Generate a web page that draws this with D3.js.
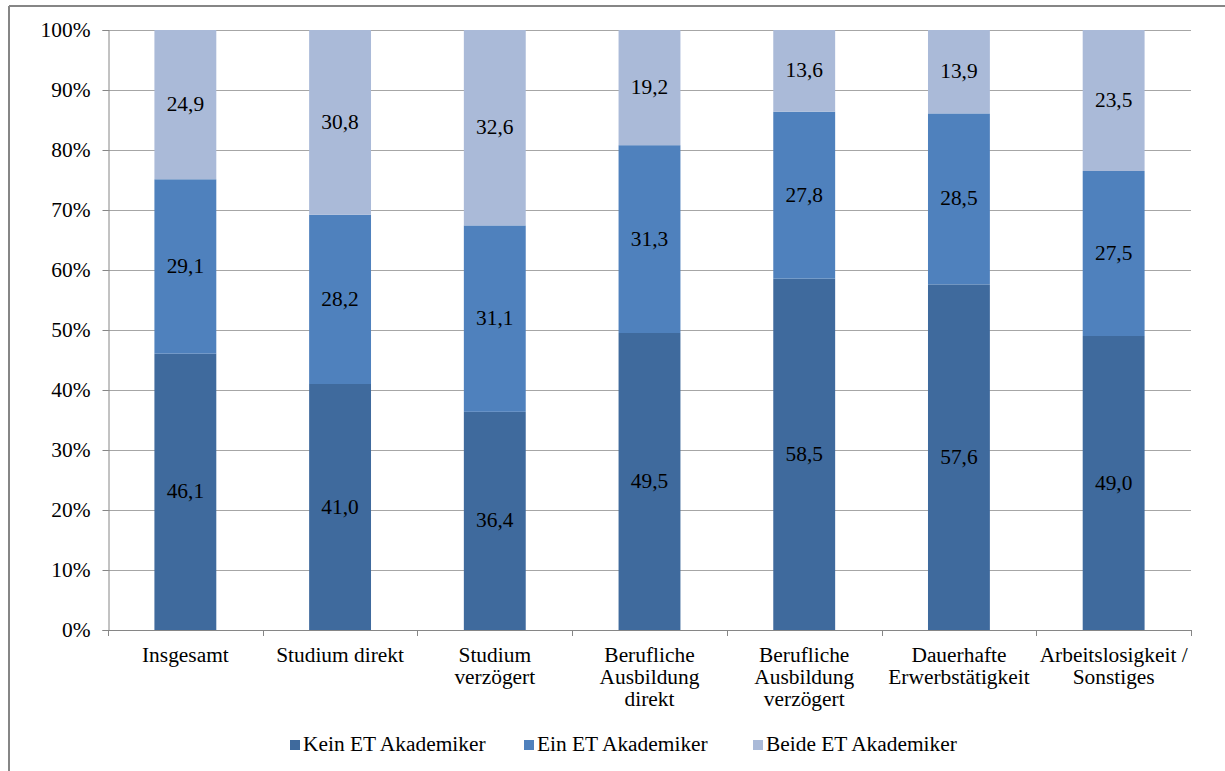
<!DOCTYPE html>
<html><head><meta charset="utf-8">
<script src="https://cdn.jsdelivr.net/npm/d3@7"></script>
<style>body{margin:0;background:#fff}svg{display:block}
svg text{font-family:'Liberation Serif','Times New Roman',Tinos,Times,'DejaVu Serif',serif;fill:#000}</style>
</head><body>
<svg id="c" width="1225" height="771"></svg>
<script>
const categories = [["Insgesamt"],["Studium direkt"],["Studium","verzögert"],["Berufliche","Ausbildung","direkt"],["Berufliche","Ausbildung","verzögert"],["Dauerhafte","Erwerbstätigkeit"],["Arbeitslosigkeit /","Sonstiges"]];
const seriesNames = ["Kein ET Akademiker","Ein ET Akademiker","Beide ET Akademiker"];
const kein = [46.1,41.0,36.4,49.5,58.5,57.6,49.0];
const ein = [29.1,28.2,31.1,31.3,27.8,28.5,27.5];
const beide = [24.9,30.8,32.6,19.2,13.6,13.9,23.5];
const yTicks = [0,0.1,0.2,0.3,0.4,0.5,0.6,0.7,0.8,0.9,1];
const colors = ["#3F6A9D","#4F81BD","#AABAD8"];
const FS = 20, SX = 1.07;

const svg = d3.select("#c");
const L=108,R=1191,T=30,B=630;
const x = d3.scaleBand().domain(d3.range(categories.length)).range([L,R]).paddingInner(0.6).paddingOuter(0.3);
const xb = d3.scaleBand().domain(d3.range(categories.length)).range([L,R]);
const y = d3.scaleLinear().domain([0,1]).range([B,T]);

function txt(g, px, py, anchor, lines, lh){
  const t = g.append("text").attr("transform",`translate(${px},${py}) scale(${SX},1)`)
    .attr("text-anchor",anchor).attr("font-size",FS);
  lines.forEach((ln,j)=>t.append("tspan").attr("x",0).attr("y",j*(lh||0)).text(ln));
  return t;
}

// outer frame
svg.append("line").attr("x1",9).attr("x2",1225).attr("y1",6).attr("y2",6).attr("stroke","#868686").attr("stroke-width",2);
svg.append("line").attr("x1",9).attr("x2",9).attr("y1",6).attr("y2",771).attr("stroke","#868686").attr("stroke-width",2);

// grid
svg.append("g").selectAll("line").data(yTicks.slice(1)).join("line")
  .attr("x1",L).attr("x2",R).attr("y1",d=>Math.round(y(d))+0.5).attr("y2",d=>Math.round(y(d))+0.5)
  .attr("stroke","#A6A6A6").attr("stroke-width",1);

// y axis
const ya = svg.append("g").attr("transform",`translate(${L+0.5},0)`)
  .call(d3.axisLeft(y).tickValues(yTicks).tickFormat(d=>Math.round(d*100)+"%").tickSize(6).tickPadding(11));
ya.select(".domain").attr("stroke","#868686");
ya.selectAll(".tick line").attr("stroke","#868686");
ya.selectAll(".tick text").each(function(d){
  const s = d3.select(this);
  s.attr("font-size",FS).attr("x",null).attr("dy",null)
   .attr("transform",`translate(-18,6.5) scale(${SX},1)`);
});

const stackData = categories.map((c,i)=>{const s=kein[i]+ein[i]+beide[i];return {i,k:kein[i]/s,e:ein[i]/s,b:beide[i]/s,vals:[kein[i],ein[i],beide[i]]};});
const stack = d3.stack().keys(["k","e","b"])(stackData);

const gBars = svg.append("g");
const gLab = svg.append("g");
stack.forEach((layer,si)=>{
  gBars.selectAll(null).data(layer).join("rect")
    .attr("x",d=>x(d.data.i)).attr("width",x.bandwidth())
    .attr("y",d=>y(d[1])).attr("height",d=>y(d[0])-y(d[1]))
    .attr("fill",colors[si]);
  layer.forEach(d=>{
    txt(gLab, x(d.data.i)+x.bandwidth()/2, (y(d[0])+y(d[1]))/2+6.5, "middle", [d.data.vals[si].toFixed(1).replace(".",",")]);
  });
});

// x axis
svg.append("line").attr("x1",L).attr("x2",R).attr("y1",B+0.5).attr("y2",B+0.5).attr("stroke","#868686");
svg.append("g").selectAll("line").data(d3.range(categories.length+1)).join("line")
  .attr("x1",d=>Math.round(L+d*xb.step())+0.5).attr("x2",d=>Math.round(L+d*xb.step())+0.5)
  .attr("y1",B).attr("y2",B+6).attr("stroke","#868686");
const xl = svg.append("g");
categories.forEach((lines,i)=>{
  txt(xl, xb(i)+xb.bandwidth()/2, 662, "middle", lines, 22);
});

// legend
const legX = [290,524,753];
const lg = svg.append("g");
seriesNames.forEach((n,i)=>{
  lg.append("rect").attr("x",legX[i]).attr("y",740).attr("width",10).attr("height",10).attr("fill",colors[i]);
  txt(lg, legX[i]+13, 751, "start", [n]);
});
</script>
</body></html>
